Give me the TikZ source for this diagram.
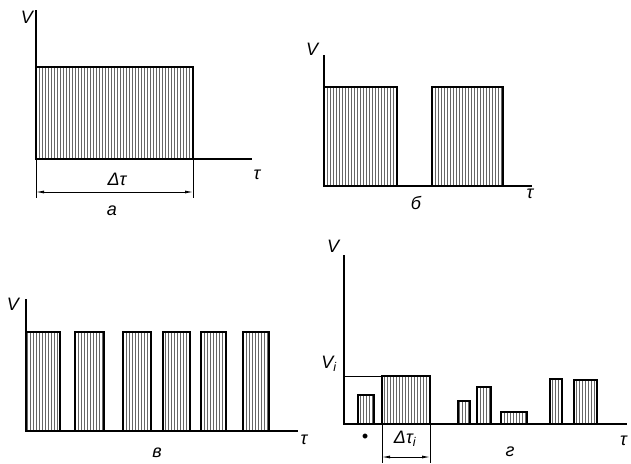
\documentclass[tikz,border=0pt]{standalone}
\usepackage{fontspec}
\setmainfont{Liberation Sans}
\usetikzlibrary{patterns.meta,arrows.meta}
\tikzset{
  axisline/.style={line width=1.6pt},
  pulse/.style={draw, line width=1.4pt, pattern={Lines[angle=90,distance=3pt,line width=0.8pt]}, pattern color=black!60},
  lbl/.style={font=\fontsize{18}{18}\selectfont\itshape, inner sep=0pt},
  dimline/.style={line width=0.8pt, {Latex[length=8pt,width=3pt]}-{Latex[length=8pt,width=3pt]}},
  extline/.style={line width=0.6pt},
}
\newcommand\mypulse[4]{\path[pulse] (#1,#4) rectangle (#2,#3);}
\begin{document}
\begin{tikzpicture}[x=1pt,y=-1pt]
\useasboundingbox (0,0) rectangle (631,463);
% ---------- panel a ----------
\coordinate (aO) at (36,159);
\coordinate (aY) at (36,10);
\coordinate (aX) at (252,159);
\mypulse{36}{193}{67}{159}
\draw[axisline] (aY) -- (aO) -- (aX);
\node[lbl] (aV) at (27,17) {V};
\node[lbl] (aT) at (257,175) {τ};
\coordinate (aE1) at (36,198);
\coordinate (aE2) at (193,198);
\draw[extline] (36,159) -- (aE1);
\draw[extline] (193,159) -- (aE2);
\coordinate (aD1) at (36,192);
\coordinate (aD2) at (193,192);
\draw[dimline] (aD1) -- (aD2);
\node[lbl] (aDt) at (117,179) {Δτ};
\node[lbl] (aCap) at (112,211) {а};
% ---------- panel b ----------
\coordinate (bO) at (324,186);
\coordinate (bY) at (324,55);
\coordinate (bX) at (532,186);
\mypulse{324}{397}{87}{186}
\mypulse{432}{503}{87}{186}
\draw[axisline] (bY) -- (bO) -- (bX);
\node[lbl] (bV) at (312,49) {V};
\node[lbl] (bT) at (530,194) {τ};
\node[lbl] (bCap) at (416,203) {б};
% ---------- panel v ----------
\coordinate (vO) at (26,431);
\coordinate (vY) at (26,299);
\coordinate (vX) at (298,431);
\mypulse{26}{60}{332}{431}
\mypulse{75}{104}{332}{431}
\mypulse{123}{151}{332}{431}
\mypulse{163}{190}{332}{431}
\mypulse{201}{226}{332}{431}
\mypulse{243}{269}{332}{431}
\draw[axisline] (vY) -- (vO) -- (vX);
\node[lbl] (vV) at (13,304) {V};
\node[lbl] (vT) at (304,440) {τ};
\node[lbl] (vCap) at (157,453) {в};
% ---------- panel g ----------
\coordinate (gO) at (344,424);
\coordinate (gY) at (344,255);
\coordinate (gX) at (627,424);
\draw[extline] (344,376) -- (382,376);
\mypulse{358}{374}{395}{424}
\mypulse{382}{430}{376}{424}
\mypulse{458}{470}{401}{424}
\mypulse{477}{491}{387}{424}
\mypulse{501}{527}{412}{424}
\mypulse{550}{562}{379}{424}
\mypulse{574}{597}{380}{424}
\draw[axisline] (gY) -- (gO) -- (gX);
\node[lbl] (gV) at (333,246) {V};
\node[lbl] (gVi) at (329,364) {V\textsubscript{\itshape i}};
\node[lbl,anchor=west] (gT) at (620,441) {τ};
\node[lbl] (gDot) at (365,438) {•};
\node[lbl] (gDt) at (405,439) {Δτ\textsubscript{\itshape i}};
\coordinate (gE1) at (382,463);
\coordinate (gE2) at (430,463);
\draw[extline] (382,424) -- (gE1);
\draw[extline] (430,424) -- (gE2);
\coordinate (gD1) at (382,457);
\coordinate (gD2) at (430,457);
\draw[dimline] (gD1) -- (gD2);
\node[lbl] (gCap) at (510,452) {г};
\end{tikzpicture}
\end{document}
